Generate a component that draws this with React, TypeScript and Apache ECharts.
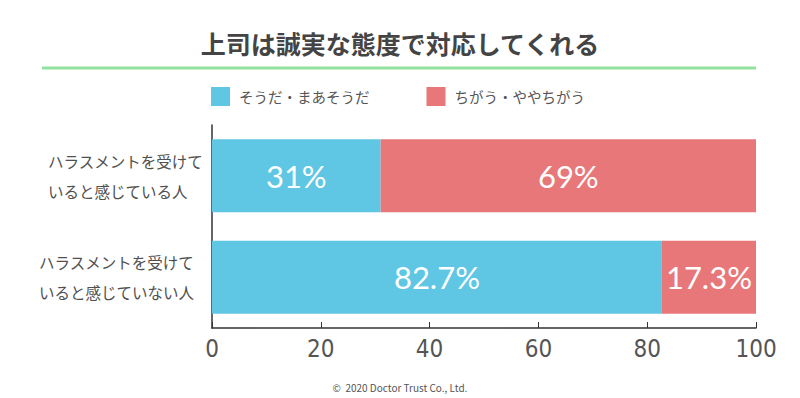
import React, { useEffect, useRef } from "react";
import * as echarts from "echarts";

const categories = [
  "ハラスメントを受けて\nいると感じている人",
  "ハラスメントを受けて\nいると感じていない人",
];
const seriesNames = ["そうだ・まあそうだ", "ちがう・ややちがう"];
const agreeValues = [31, 82.7];
const disagreeValues = [69, 17.3];
const xTicks = [0, 20, 40, 60, 80, 100];

export default function App() {
  const ref = useRef<HTMLDivElement>(null);
  useEffect(() => {
    if (!ref.current) return;
    const chart = echarts.init(ref.current, null, { renderer: "svg" });
    const font = "'Noto Sans CJK JP', 'Noto Sans', sans-serif";
    const numFont = "Lato, 'Noto Sans', sans-serif";
    const fmt = (p: any) => `${p.value}%`;
    const catRich = {
      fontSize: 15.5,
      color: "#505050",
      fontFamily: font,
      lineHeight: 30,
      align: "left",
    };
    chart.setOption({
      animation: false,
      textStyle: { fontFamily: font },
      title: {
        text: "上司は誠実な態度で対応してくれる",
        left: "center",
        top: 30,
        padding: 0,
        textStyle: { fontSize: 25, fontWeight: "bold", color: "#444", fontFamily: font },
      },
      graphic: [
        {
          type: "line",
          shape: { x1: 42, y1: 68, x2: 756, y2: 68 },
          style: { stroke: "#92e3a0", lineWidth: 3 },
        },
        {
          type: "text",
          left: "center",
          top: 382,
          style: { text: "©  2020 Doctor Trust Co., Ltd.", fontSize: 10, fill: "#555", fontFamily: font },
        },
      ],
      legend: {
        top: 87,
        left: 211,
        padding: 0,
        itemGap: 57,
        itemWidth: 19,
        itemHeight: 19,
        icon: "rect",
        textStyle: { fontSize: 14.5, color: "#555", fontFamily: font, padding: [0, 0, 0, 4] },
        data: seriesNames,
      },
      grid: { left: 212, right: 44, top: 125, bottom: 70 },
      xAxis: {
        type: "value",
        min: 0,
        max: 100,
        interval: 20,
        axisLine: { show: true, lineStyle: { color: "#333", width: 1.5 } },
        axisTick: { show: true, inside: true, length: 6, lineStyle: { color: "#333" } },
        splitLine: { show: false },
        axisLabel: {
          fontSize: 24,
          color: "#555",
          margin: 9,
          fontFamily: "'Liberation Sans Narrow', 'DejaVu Sans Condensed', sans-serif",
          formatter: (v: number) => (xTicks.includes(v) ? String(v) : ""),
        },
      },
      yAxis: {
        type: "category",
        inverse: true,
        data: categories,
        axisLine: { show: true, lineStyle: { color: "#333", width: 1.5 } },
        axisTick: { show: false },
        axisLabel: {
          fontSize: 15.5,
          color: "#505050",
          lineHeight: 30,
          margin: 9,
          align: "right",
          formatter: (v: string, i: number) =>
            v
              .split("\n")
              .map((l) => `{c${i}|${l}}`)
              .join("\n"),
          rich: {
            c0: { ...catRich, width: 155 },
            c1: { ...catRich, width: 164 },
          },
        },
      },
      series: [
        {
          name: seriesNames[0],
          type: "bar",
          stack: "a",
          barWidth: "72%",
          data: agreeValues,
          itemStyle: { color: "#5fc6e4" },
          label: { show: true, position: "inside", formatter: fmt, color: "#fff", fontSize: 31, fontFamily: numFont },
        },
        {
          name: seriesNames[1],
          type: "bar",
          stack: "a",
          barWidth: "72%",
          data: disagreeValues,
          itemStyle: { color: "#e8777a" },
          label: { show: true, position: "inside", formatter: fmt, color: "#fff", fontSize: 31, fontFamily: numFont },
        },
      ],
    });
    return () => chart.dispose();
  }, []);
  return <div ref={ref} style={{ width: 800, height: 398, position: "absolute", left: 0, top: 0 }} />;
}
